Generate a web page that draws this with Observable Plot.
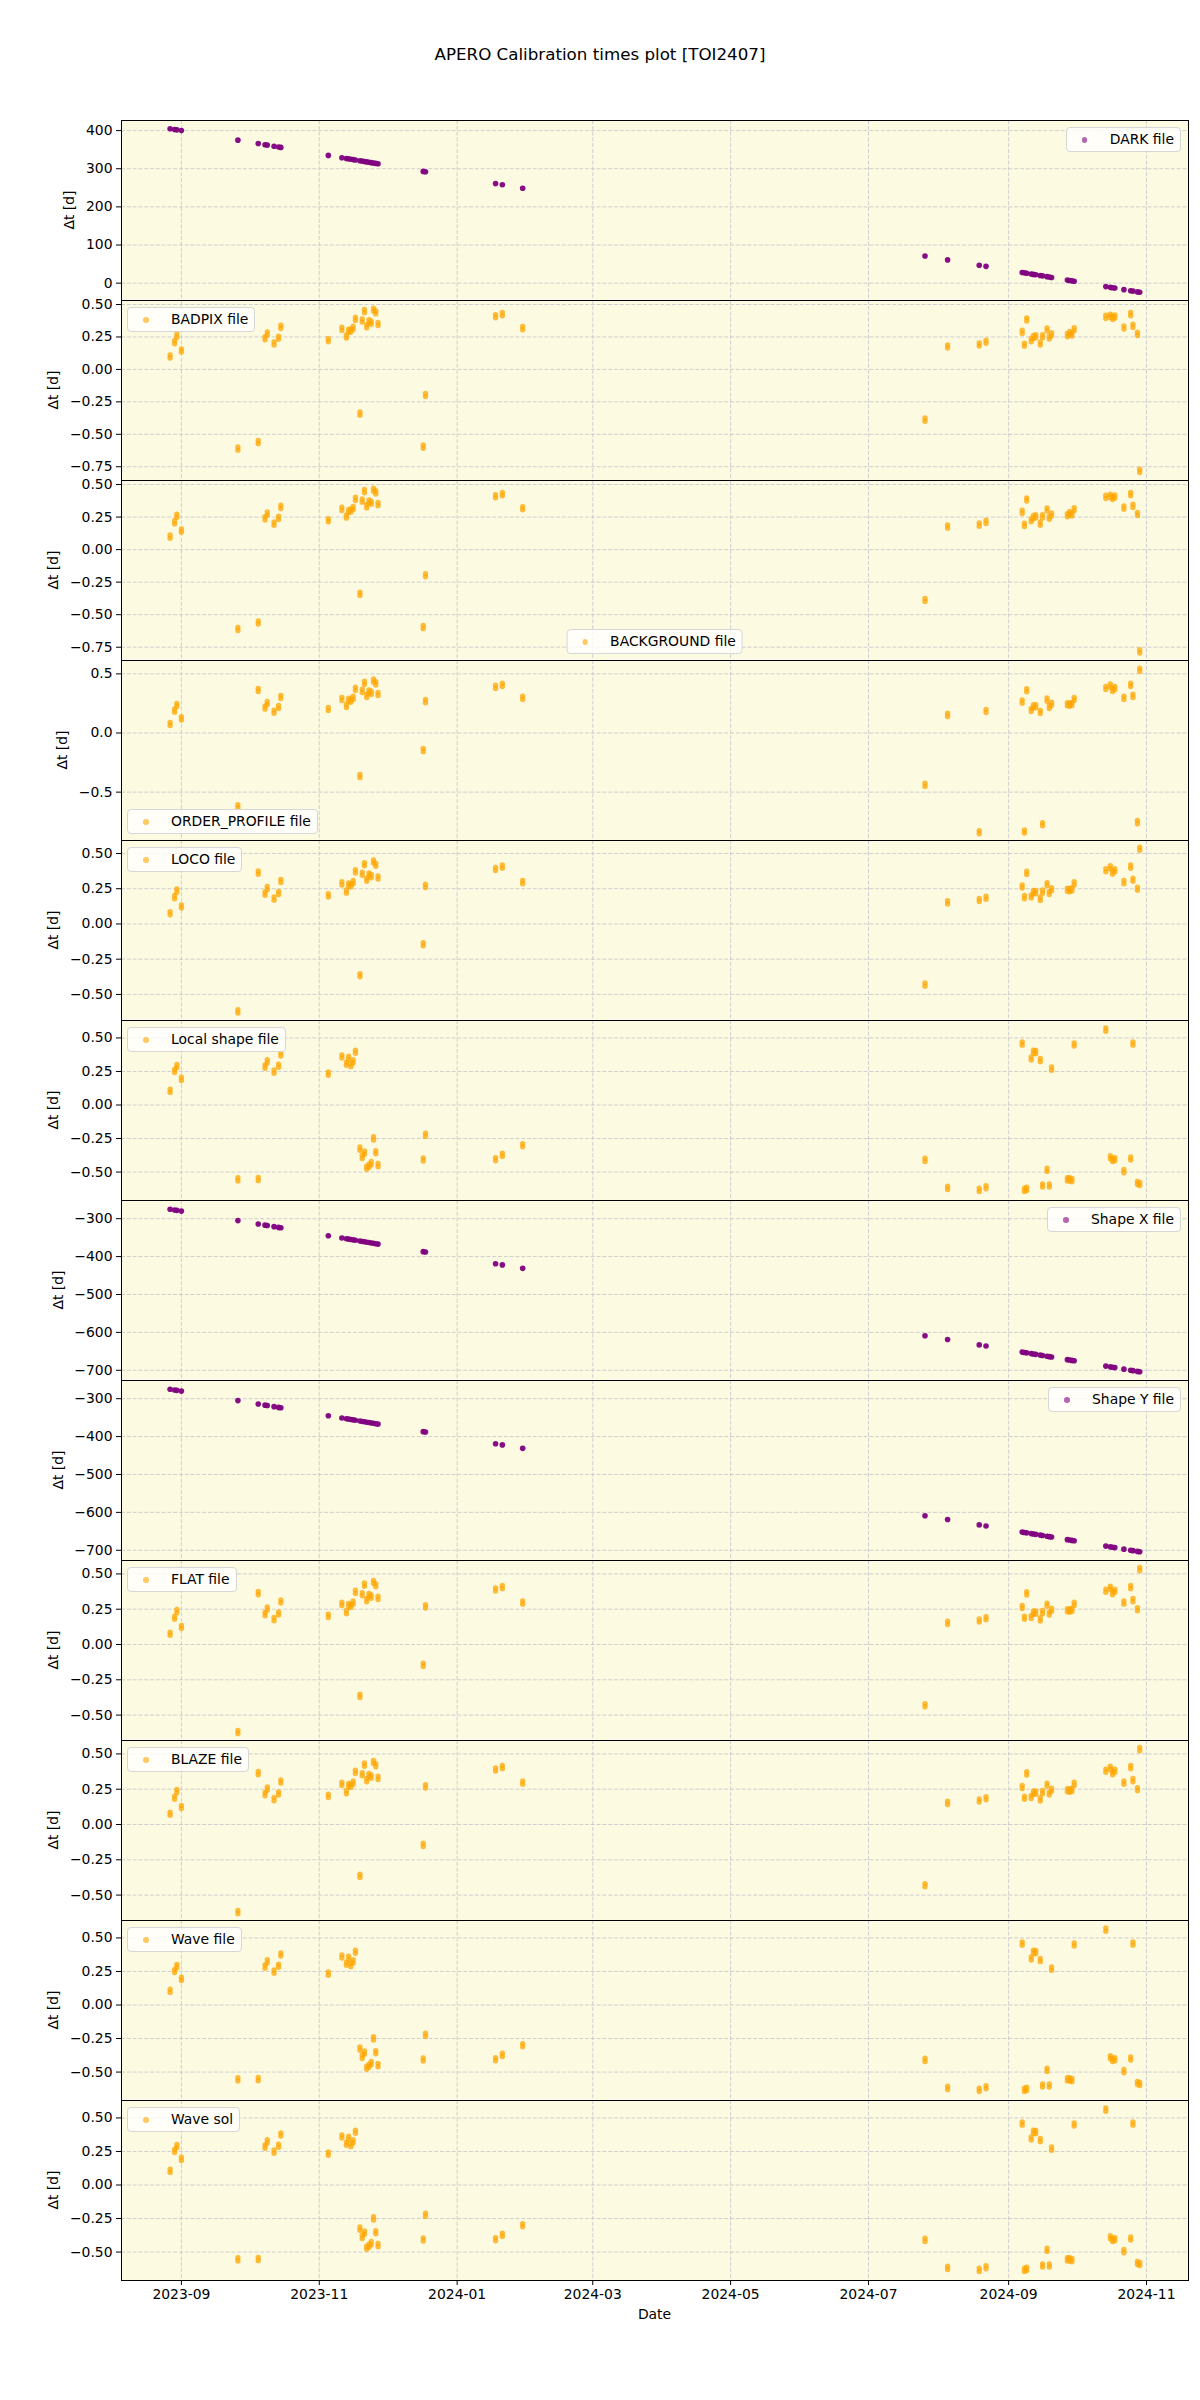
<!DOCTYPE html>
<html>
<head>
<meta charset="utf-8">
<script src="https://cdn.jsdelivr.net/npm/d3@7"></script>
<script src="https://cdn.jsdelivr.net/npm/@observablehq/plot@0.6"></script>
<style>
  body { margin: 0; background: #fff; font-family: "DejaVu Sans", sans-serif; color: #000; }
  #head { position: relative; width: 1200px; height: 120px; }
  #head .title { position: absolute; top: 44px; left: 0; width: 1200px; text-align: center; font-size: 16.7px; }
  .panel { position: relative; width: 1200px; height: 180px; }
  .panel svg { overflow: visible; display: block; }
  .ylab { position: absolute; font-size: 13.9px; white-space: nowrap; transform: translate(-50%, -50%) rotate(-90deg); }
  .legend { position: absolute; height: 23px; line-height: 23px; font-size: 13.9px; white-space: nowrap;
            background: rgba(255,255,255,0.8); border: 1px solid #d6d6d6; border-radius: 4px;
            padding: 0 6px 0 43px; }
  .legend .mk { position: absolute; left: 15px; top: 9px; width: 5.5px; height: 5.5px; border-radius: 50%; }
</style>
</head>
<body>
<div id="head"><div class="title">APERO Calibration times plot [TOI2407]</div></div>
<div id="charts"></div>
<script>
// ---------- data ----------
const dates = [
  "2023-08-27","2023-08-29","2023-08-30","2023-09-01",
  "2023-09-26","2023-10-05","2023-10-08","2023-10-09","2023-10-12","2023-10-14","2023-10-15",
  "2023-11-05","2023-11-11","2023-11-13","2023-11-14","2023-11-15","2023-11-16","2023-11-17",
  "2023-11-19","2023-11-20","2023-11-21","2023-11-22","2023-11-23","2023-11-24","2023-11-25",
  "2023-11-26","2023-11-27","2023-12-17","2023-12-18",
  "2024-01-18","2024-01-21","2024-01-30",
  "2024-07-26","2024-08-05","2024-08-19","2024-08-22",
  "2024-09-07","2024-09-08","2024-09-09","2024-09-11","2024-09-12","2024-09-13","2024-09-15",
  "2024-09-16","2024-09-18","2024-09-19","2024-09-20",
  "2024-09-27","2024-09-28","2024-09-29","2024-09-30",
  "2024-10-14","2024-10-16","2024-10-17","2024-10-18","2024-10-22","2024-10-25","2024-10-26",
  "2024-10-28","2024-10-29"
];

const darkDt = [
  405,403,402,400,
  375,366,363,362,359,357,356,
  335,329,327,326,325,324,323,
  321,320,319,318,317,316,315,
  314,313,293,292,
  261,258,249,
  71,61,47,44,
  28,27,26,24,23,22,20,
  19,17,16,15,
  8,7,6,5,
  -9,-11,-12,-13,-17,-20,-21,
  -23,-24
];

const shapeDt = [
  -275,-277,-278,-280,
  -305,-314,-317,-318,-321,-323,-324,
  -345,-351,-353,-354,-355,-356,-357,
  -359,-360,-361,-362,-363,-364,-365,
  -366,-367,-387,-388,
  -419,-422,-431,
  -609,-619,-633,-636,
  -652,-653,-654,-656,-657,-658,-660,
  -661,-663,-664,-665,
  -672,-673,-674,-675,
  -689,-691,-692,-693,-697,-700,-701,
  -703,-704
];

const badpixDt = [
  0.10,0.21,0.26,0.146,
  -0.61,-0.56,0.24,0.277,0.20,0.244,0.328,
  0.226,0.313,0.254,0.297,0.30,0.32,0.39,
  -0.34,0.377,0.449,0.333,0.37,0.36,0.46,
  0.44,0.35,-0.595,-0.197,
  0.41,0.426,0.318,
  -0.387,0.177,0.192,0.213,
  0.29,0.19,0.385,0.226,0.25,0.256,0.20,
  0.256,0.308,0.246,0.27,
  0.264,0.28,0.27,0.31,
  0.405,0.413,0.397,0.408,0.323,0.426,0.336,
  0.274,-0.782
];

const orderProfileDt = [
  0.076,0.19,0.237,0.124,
  -0.62,0.364,0.215,0.254,0.18,0.22,0.305,
  0.203,0.288,0.229,0.28,0.274,0.297,0.373,
  -0.364,0.356,0.424,0.314,0.35,0.339,0.443,
  0.42,0.33,-0.144,0.27,
  0.39,0.407,0.297,
  -0.438,0.153,-0.839,0.186,
  0.266,-0.833,0.362,0.195,0.226,0.226,0.178,
  -0.771,0.282,0.22,0.246,
  0.243,0.240,0.245,0.288,
  0.381,0.401,0.364,0.381,0.297,0.407,0.314,
  -0.754,0.534
];

const locoDt = [
  0.076,0.19,0.237,0.124,
  -0.62,0.364,0.215,0.254,0.18,0.22,0.305,
  0.203,0.288,0.229,0.28,0.274,0.297,0.373,
  -0.364,0.356,0.424,0.314,0.35,0.339,0.443,
  0.42,0.33,-0.144,0.27,
  0.39,0.407,0.297,
  -0.43,0.153,0.17,0.186,
  0.266,0.19,0.362,0.195,0.226,0.226,0.178,
  0.23,0.282,0.22,0.246,
  0.243,0.240,0.245,0.288,
  0.381,0.401,0.364,0.381,0.297,0.407,0.314,
  0.25,0.534
];

const localShapeDt = [
  0.106,0.254,0.29,0.195,
  -0.554,-0.552,0.286,0.325,0.249,0.293,0.377,
  0.234,0.362,0.308,0.352,0.298,0.325,0.397,
  -0.325,-0.387,-0.355,-0.468,-0.453,-0.433,-0.249,
  -0.352,-0.448,-0.406,-0.222,
  -0.404,-0.372,-0.30,
  -0.409,-0.618,-0.633,-0.613,
  0.458,-0.633,-0.625,0.347,0.397,0.394,0.335,
  -0.60,-0.483,-0.60,0.271,
  -0.554,-0.554,-0.56,0.451,
  0.562,-0.389,-0.409,-0.404,-0.493,-0.399,0.458,
  -0.581,-0.589
];

const xTickLabels = ["2023-09","2023-11","2024-01","2024-03","2024-05","2024-07","2024-09","2024-11"];
const xDomain = ["2023-08-05T12:00Z", "2024-11-19T14:00Z"];

const ticksDark = [0, 100, 200, 300, 400];
const ticksQuarter = [-0.75, -0.5, -0.25, 0, 0.25, 0.5];
const ticksQuarterShort = [-0.5, -0.25, 0, 0.25, 0.5];
const ticksHalf = [-0.5, 0, 0.5];
const ticksShape = [-700, -600, -500, -400, -300];

const panelNames = ["DARK file","BADPIX file","BACKGROUND file","ORDER_PROFILE file","LOCO file",
  "Local shape file","Shape X file","Shape Y file","FLAT file","BLAZE file","Wave file","Wave sol"];

// ---------- panel setup ----------
const PURPLE = "#800080", ORANGE = "#ffa500";
const panels = [
  {vals: darkDt, color: PURPLE, domain: [-45.5, 426.5], ticks: ticksDark, fmt: d3.format("d"), legend: "tr", ylabX: 69},
  {vals: badpixDt, color: ORANGE, domain: [-0.856, 0.531], ticks: ticksQuarter, fmt: d3.format(".2f"), legend: "tl", ylabX: 53},
  {vals: badpixDt, color: ORANGE, domain: [-0.852, 0.531], ticks: ticksQuarter, fmt: d3.format(".2f"), legend: "bc", ylabX: 53},
  {vals: orderProfileDt, color: ORANGE, domain: [-0.909, 0.613], ticks: ticksHalf, fmt: d3.format(".1f"), legend: "bl", ylabX: 62},
  {vals: locoDt, color: ORANGE, domain: [-0.685, 0.592], ticks: ticksQuarterShort, fmt: d3.format(".2f"), legend: "tl", ylabX: 53},
  {vals: localShapeDt, color: ORANGE, domain: [-0.712, 0.63], ticks: ticksQuarterShort, fmt: d3.format(".2f"), legend: "tl", ylabX: 53},
  {vals: shapeDt, color: PURPLE, domain: [-727, -252], ticks: ticksShape, fmt: d3.format("d"), legend: "tr", ylabX: 58},
  {vals: shapeDt, color: PURPLE, domain: [-727, -252], ticks: ticksShape, fmt: d3.format("d"), legend: "tr", ylabX: 58},
  {vals: locoDt, color: ORANGE, domain: [-0.68, 0.595], ticks: ticksQuarterShort, fmt: d3.format(".2f"), legend: "tl", ylabX: 53},
  {vals: locoDt, color: ORANGE, domain: [-0.68, 0.595], ticks: ticksQuarterShort, fmt: d3.format(".2f"), legend: "tl", ylabX: 53},
  {vals: localShapeDt, color: ORANGE, domain: [-0.712, 0.63], ticks: ticksQuarterShort, fmt: d3.format(".2f"), legend: "tl", ylabX: 53},
  {vals: localShapeDt, color: ORANGE, domain: [-0.712, 0.63], ticks: ticksQuarterShort, fmt: d3.format(".2f"), legend: "tl", ylabX: 53}
];

const parseDay = d3.utcParse("%Y-%m-%d");
const parseMonth = d3.utcParse("%Y-%m");
const xTicks = xTickLabels.map(parseMonth);
const xDom = xDomain.map(s => new Date(s));

const container = document.getElementById("charts");
const PANEL_H = 180;

panels.forEach((p, i) => {
  const last = i === panels.length - 1;
  const data = dates.map((d, k) => ({date: parseDay(d), dt: p.vals[k]}));
  const isOrange = p.color === ORANGE;
  const dotMarks = isOrange
    ? [
        Plot.dot(data, {x: "date", y: "dt", r: 2.7, fill: p.color, fillOpacity: 0.75, stroke: "none", dy: -1.6}),
        Plot.dot(data, {x: "date", y: "dt", r: 2.7, fill: p.color, fillOpacity: 0.75, stroke: "none", dy: 1.6})
      ]
    : [
        Plot.dot(data, {x: "date", y: "dt", r: 2.8, fill: p.color, fillOpacity: 0.95, stroke: "none"})
      ];

  const marks = [
    Plot.frame({fill: "#fcfae0", stroke: "none"}),
    Plot.gridX(xTicks, {stroke: "#c4c4cc", strokeOpacity: 1, strokeWidth: 0.8, strokeDasharray: "4,1.8"}),
    Plot.gridY(p.ticks, {stroke: "#c4c4cc", strokeOpacity: 1, strokeWidth: 0.8, strokeDasharray: "4,1.8"}),
    ...dotMarks,
    Plot.axisY(p.ticks, {tickFormat: p.fmt, tickSize: 5, tickPadding: 4, label: null, fontSize: 13.9}),
    Plot.frame({stroke: "#000", strokeWidth: 1})
  ];
  if (last) {
    marks.push(Plot.axisX(xTicks, {tickFormat: d3.utcFormat("%Y-%m"), tickSize: 5, tickPadding: 4, label: null, fontSize: 13.9}));
  }

  const chart = Plot.plot({
    width: 1200,
    height: last ? PANEL_H + 70 : PANEL_H,
    marginLeft: 121,
    marginRight: 12,
    marginTop: 0,
    marginBottom: last ? 70 : 0,
    style: {fontFamily: "DejaVu Sans, sans-serif", fontSize: "13.9px", background: "transparent", overflow: "visible", color: "#000"},
    x: {type: "utc", domain: xDom},
    y: {domain: p.domain},
    marks
  });

  const div = document.createElement("div");
  div.className = "panel";
  div.appendChild(chart);

  // y label
  const yl = document.createElement("div");
  yl.className = "ylab";
  yl.textContent = "Δt [d]";
  yl.style.left = p.ylabX + "px";
  yl.style.top = (PANEL_H / 2) + "px";
  div.appendChild(yl);

  // legend
  const lg = document.createElement("div");
  lg.className = "legend";
  const mk = document.createElement("span");
  mk.className = "mk";
  mk.style.background = p.color;
  mk.style.opacity = "0.6";
  lg.appendChild(mk);
  lg.appendChild(document.createTextNode(panelNames[i]));
  if (p.legend === "tl") { lg.style.left = "127px"; lg.style.top = "7px"; }
  if (p.legend === "tr") { lg.style.right = "19px"; lg.style.top = "7px"; }
  if (p.legend === "bl") { lg.style.left = "127px"; lg.style.bottom = "6px"; }
  if (p.legend === "bc") { lg.style.left = "654.5px"; lg.style.bottom = "6px"; lg.style.transform = "translateX(-50%)"; }
  div.appendChild(lg);

  if (last) {
    div.style.height = (PANEL_H + 70) + "px";
    const xl = document.createElement("div");
    xl.textContent = "Date";
    xl.style.position = "absolute";
    xl.style.fontSize = "13.9px";
    xl.style.left = "654.5px";
    xl.style.top = (PANEL_H + 26) + "px";
    xl.style.transform = "translateX(-50%)";
    div.appendChild(xl);
  }
  container.appendChild(div);
});
</script>
</body>
</html>
